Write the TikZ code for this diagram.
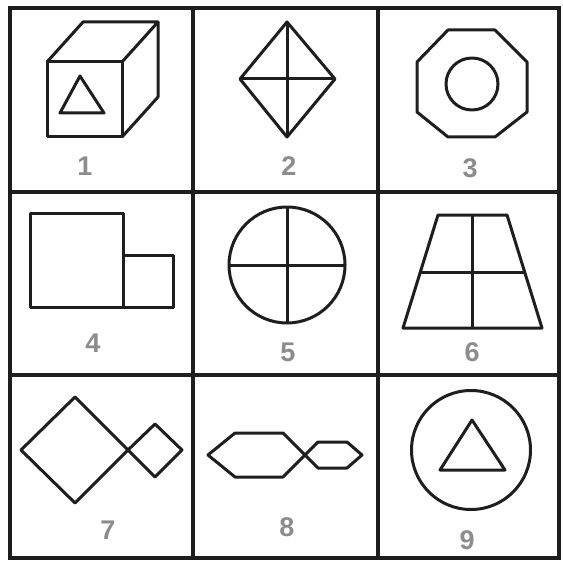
\documentclass[tikz,border=0pt]{standalone}
\usepackage{fontspec}
\setmainfont{Liberation Sans}
\definecolor{labelgray}{HTML}{8C8C8C}
\definecolor{ink}{HTML}{1E1E1E}
\begin{document}
\begin{tikzpicture}[x=1pt,y=-1pt,
  gridline/.style={line width=3.4pt,draw=ink,line cap=round},
  figline/.style={line width=3pt,draw=ink,line join=round},
  lbl/.style={text=labelgray,font=\fontsize{27}{27}\selectfont\bfseries,inner sep=0pt}]
\path[use as bounding box,fill=white] (0,0) rectangle (562,564);
% grid
\draw[gridline] (10,8) rectangle (559,558);
\draw[gridline] (193,8) -- (193,558);
\draw[gridline] (378,8) -- (378,558);
\draw[gridline] (10,192) -- (559,192);
\draw[gridline] (10,375) -- (559,375);
% 1 cube
\draw[figline] (47,62) rectangle (122,137);
\draw[figline] (47,62) -- (83,22) -- (158,22) -- (122,62);
\draw[figline] (158,22) -- (158,97) -- (122,137);
\draw[figline] (80,76) -- (60,113) -- (104,113) -- cycle;
\node[lbl] (l1) at (85,166) {1};
% 2 diamond
\draw[figline] (287,22) -- (335,79) -- (287,137) -- (240,79) -- cycle;
\draw[figline] (287,22) -- (287,137);
\draw[figline] (240,79) -- (335,79);
\node[lbl] (l2) at (289,166) {2};
% 3 octagon
\draw[figline] (448,30) -- (495,30) -- (527,62) -- (527,112) -- (495,137) -- (448,137) -- (417,112) -- (417,62) -- cycle;
\draw[figline] (472,84) circle (26);
\node[lbl] (l3) at (470,168) {3};
% 4 squares
\draw[figline] (30,213) rectangle (123,307);
\draw[figline] (123,255) rectangle (173,307);
\node[lbl] (l4) at (93,343) {4};
% 5 circle cross
\draw[figline] (287,265) circle (58);
\draw[figline] (287,207) -- (287,323);
\draw[figline] (229,265) -- (345,265);
\node[lbl] (l5) at (288,352) {5};
% 6 trapezoid
\draw[figline] (438,215) -- (507,215) -- (542,328) -- (403,328) -- cycle;
\draw[figline] (472,215) -- (472,328);
\draw[figline] (420.5,272) -- (524.5,272);
\node[lbl] (l6) at (472,352) {6};
% 7 diamonds
\draw[figline] (21,450) -- (75,397) -- (128,450) -- (75,503) -- cycle;
\draw[figline] (128,450) -- (155,424) -- (182,450) -- (155,477) -- cycle;
\node[lbl] (l7) at (108,530) {7};
% 8 hexagons
\draw[figline] (208,455) -- (235,433) -- (283,433) -- (305,455) -- (283,477) -- (235,477) -- cycle;
\draw[figline] (305,455) -- (318,442) -- (347,442) -- (362,455) -- (347,468) -- (318,468) -- cycle;
\node[lbl] (l8) at (287,527) {8};
% 9 circle triangle
\draw[figline] (471,450) circle (59.5);
\draw[figline] (472,420) -- (505,470) -- (440,470) -- cycle;
\node[lbl] (l9) at (467,540) {9};
\end{tikzpicture}
\end{document}
